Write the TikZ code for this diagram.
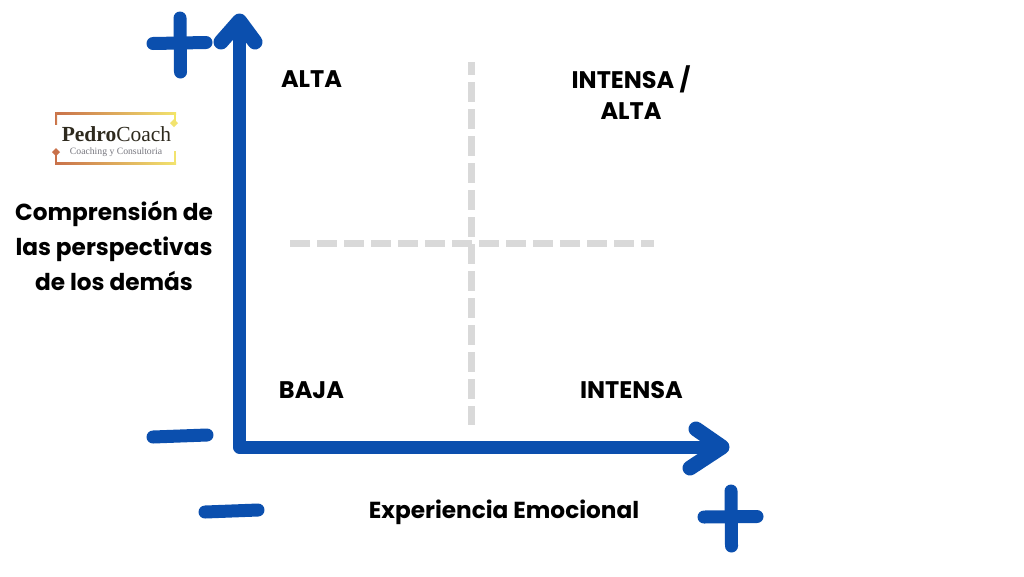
\documentclass[tikz,border=0pt]{standalone}
\usepackage{fontspec}
\setmainfont{Poppins}
\newfontfamily\logofont{Liberation Serif}
\definecolor{axisblue}{HTML}{0B4FAE}
\definecolor{dashgray}{HTML}{D9D9D9}
\definecolor{logodark}{HTML}{2E2A1E}
\definecolor{logogray}{HTML}{77777F}
\definecolor{logoA}{HTML}{C9714A}
\definecolor{logoB}{HTML}{F2E36E}
\tikzset{
  axisline/.style={draw=axisblue,line width=13pt,line cap=round,line join=round},
  headline/.style={draw=axisblue,line width=15pt,line cap=round,line join=round},
  signline/.style={draw=axisblue,line width=13pt,line cap=round},
  vguide/.style={draw=dashgray,line width=7pt,dash pattern=on 20pt off 7pt,dash phase=7pt},
  hguide/.style={draw=dashgray,line width=7pt,dash pattern=on 20pt off 7pt},
  lbl/.style={font=\bfseries\fontsize{23.2}{35}\selectfont,align=center,text=black,inner sep=0pt},
  quad/.style={font=\bfseries\fontsize{24}{31}\selectfont,align=center,text=black,inner sep=0pt},
  framebar/.style={left color=logoA,right color=logoB,draw=none},
}
\begin{document}
\begin{tikzpicture}[x=1pt,y=-1pt]
\useasboundingbox[fill=white] (0,0) rectangle (1024,576);
% guides
\coordinate (vtop) at (471,62); \coordinate (vbot) at (471,425);
\coordinate (hl) at (290,243); \coordinate (hr) at (654,243);
\draw[vguide] (vtop) -- (vbot);
\draw[hguide] (hl) -- (hr);
% axes
\coordinate (org) at (239.5,447);
\coordinate (ytip) at (239.5,21);
\coordinate (xtip) at (722,447);
\draw[axisline] (ytip) -- (org) -- (xtip);
\draw[headline] (221,42) -- (ytip) -- (255,42);
\draw[headline] (696,429) -- (xtip) -- (690,468);
% signs
\draw[signline] (153,43.5) -- (206,42.5);
\draw[signline] (180,18) -- (180.5,72);
\draw[signline] (704,517) -- (757,516.5);
\draw[signline] (731,491) -- (731.5,546);
\draw[signline] (153,437) -- (207,435);
\draw[signline] (205,512) -- (258,510);
% labels
\node[quad] (alta) at (311.5,79) {ALTA};
\node[quad] (ia) at (631,92.5) {INTENSA /\\ALTA};
\node[quad] (baja) at (311.5,390) {BAJA};
\node[quad] (intensa) at (631.5,390) {INTENSA};
\node[lbl] (yl) at (114,246) {Comprensión de\\las perspectivas\\de los demás};
\node[lbl] (xl) at (504,512) {Experiencia Emocional};
% logo
\shade[framebar] (55,112) rectangle (176,114);
\shade[left color=logoA,right color=logoA!80!logoB] (55,112) rectangle (57,124);
\fill[logoB!90!yellow] (174,112) rectangle (176,123);
\fill[logoB] (174,119) -- (178,123) -- (174,127) -- (170,123) -- cycle;
\shade[framebar] (55,162) rectangle (176,164);
\fill[logoA] (55,150) rectangle (57,164);
\fill[logoB] (174,151) rectangle (176,164);
\fill[logoA] (56,148) -- (60,152) -- (56,156) -- (52,152) -- cycle;
\node[inner sep=0pt,text=logodark,font=\logofont\fontsize{21.5}{22}\selectfont] (logo) at (116.5,134) {\textbf{Pedro}Coach};
\node[inner sep=0pt,text=logogray,font=\logofont\fontsize{9.7}{11}\selectfont] (logosub) at (116,152.5) {Coaching y Consultoria};
\end{tikzpicture}
\end{document}
